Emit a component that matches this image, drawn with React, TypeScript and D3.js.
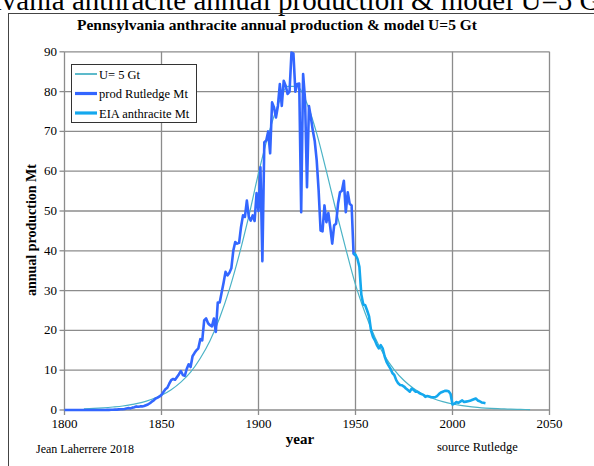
import * as d3 from 'd3';

// Rutledge production, Mt, one value per year from 1800
const rutledgeStart = 1800;
const rutledgeMt = [
  0, 0, 0, 0, 0, 0, 0, 0, 0, 0,
  0, 0, 0, 0, 0, 0, 0, 0, 0, 0,
  0.01, 0.01, 0.03, 0.03, 0.05, 0.08, 0.1, 0.1, 0.15, 0.2,
  0.2, 0.25, 0.4, 0.5, 0.4, 0.6, 0.7, 0.9, 0.8, 0.9,
  0.9, 1.0, 1.2, 1.4, 1.7, 2.1, 2.4, 2.9, 3.1, 3.4,
  3.8, 4.5, 5.2, 5.6, 6.6, 7.5, 7.8, 7.6, 8.3, 9.0,
  9.8, 8.8, 8.6, 10.3, 11.5, 10.8, 13.5, 14.3, 15.0, 15.5,
  17.8, 17.5, 22.5, 23.0, 21.8, 21.3, 21.0, 23.0, 19.6, 27.0,
  27.0, 29.5, 32.0, 34.7, 33.8, 34.5, 35.6, 40.0, 42.2, 41.8,
  42.0, 46.0, 48.9, 48.5, 52.6, 48.5, 47.6, 48.9, 47.5, 54.5,
  50.0, 61.0, 37.4, 67.3, 67.7, 70.0, 64.5, 77.3, 76.0, 73.5,
  76.4, 81.9, 76.4, 82.7, 81.5, 79.4, 80.0, 89.8, 89.6, 80.0,
  81.9, 82.0, 49.7, 84.4, 78.0, 56.0, 76.4, 73.5, 70.2, 67.5,
  62.7, 55.1, 45.1, 44.9, 51.4, 47.2, 49.5, 45.9, 41.8, 46.4,
  46.8, 51.8, 54.7, 55.1, 57.6, 49.7, 54.7, 51.8, 51.4, 39.3,
  38.8,
];

// EIA anthracite, Mt, one value per year from 1949
const eiaStart = 1949;
const eiaMt = [
  39.5, 39.0, 38.0, 36.0, 29.0, 26.5, 26.3, 25.0, 23.5, 20.0,
  18.4, 17.5, 16.3, 15.5, 16.3, 15.5, 13.5, 12.1, 11.2, 10.4,
  9.3, 8.8, 7.5, 6.7, 6.3, 6.2, 5.9, 5.4, 5.0, 4.6,
  5.4, 5.0, 4.6, 4.6, 4.2, 4.0, 3.8, 3.3, 3.5, 3.4,
  3.2, 3.2, 3.2, 3.5, 4.0, 4.4, 4.6, 4.8, 4.8, 4.7,
  4.0, 1.4, 1.6, 2.0, 1.8, 2.1, 2.4, 2.0, 2.1, 2.2,
  2.3, 2.5, 2.7, 2.9, 2.4, 2.2, 1.9, 1.8, 1.7,
];

// model U = 5 Gt, read every 5 years
const modelYears = [
  1810, 1815, 1820, 1825, 1830, 1835, 1840, 1845, 1850, 1855,
  1860, 1865, 1870, 1875, 1880, 1885, 1890, 1895, 1900, 1905,
  1910, 1915, 1920, 1925, 1930, 1935, 1940, 1945, 1950, 1955,
  1960, 1965, 1970, 1975, 1980, 1985, 1990, 1995, 2000, 2005,
  2010, 2015, 2020, 2025, 2030, 2035, 2040,
];
const modelMt = [
  0.3, 0.4, 0.55, 0.75, 1.0, 1.4, 1.9, 2.7, 3.7, 5.1,
  7.0, 9.5, 13.0, 17.4, 23.2, 30.3, 38.9, 48.7, 59.5, 69.0,
  76.6, 81.3, 81.3, 77.0, 69.5, 60.0, 50.0, 40.5, 31.5, 24.3,
  18.3, 13.6, 10.1, 7.4, 5.4, 3.9, 2.9, 2.1, 1.5, 1.1,
  0.8, 0.55, 0.4, 0.3, 0.2, 0.15, 0.1,
];

const xTicks = [1800, 1850, 1900, 1950, 2000, 2050];
const yTicks = [0, 10, 20, 30, 40, 50, 60, 70, 80, 90];

const legendLabels = ['U= 5 Gt', 'prod Rutledge Mt', 'EIA anthracite Mt'];
const legendColors = ['#4bb3c6', '#3366ff', '#14a8ee'];
const legendWidths = [1.2, 2.6, 2.6];

type Pt = [number, number];

export default function App() {
  const x = d3.scaleLinear().domain([1800, 2050]).range([64.5, 549.5]);
  const y = d3.scaleLinear().domain([0, 90]).range([410, 51.8]);
  const serif = '"Liberation Serif", "Times New Roman", serif';

  const line = d3
    .line<Pt>()
    .x((d) => x(d[0]))
    .y((d) => y(d[1]));
  const smooth = d3
    .line<Pt>()
    .x((d) => x(d[0]))
    .y((d) => y(d[1]))
    .curve(d3.curveMonotoneX);

  const rutledge: Pt[] = rutledgeMt.map((v, i) => [rutledgeStart + i, v]);
  const eia: Pt[] = eiaMt.map((v, i) => [eiaStart + i, v]);
  const model: Pt[] = modelYears.map((yr, i) => [yr, modelMt[i]]);

  const [x0, x1] = x.range();
  const [y0, y1] = y.range();

  return (
    <svg
      width={594}
      height={466}
      style={{ position: 'absolute', left: 0, top: 0, background: '#fff' }}
      fontFamily={serif}
    >
      {/* slide title, cut off at the top */}
      <text x={-90} y={10} fontSize={29} fill="#000">
        Pennsylvania anthracite annual production &amp; model U=5 Gt
      </text>
      {/* chart frame */}
      <rect x={8.5} y={13.5} width={700} height={600} fill="none" stroke="#444" strokeWidth={1} />

      <text x={277} y={29.5} fontSize={15.5} fontWeight="bold" textAnchor="middle">
        Pennsylvania anthracite annual production &amp; model U=5 Gt
      </text>

      {/* grid */}
      {yTicks.map((t) => (
        <g key={'y' + t}>
          <line x1={x0} x2={x1} y1={y(t)} y2={y(t)} stroke="#8c8c8c" strokeWidth={1.3} />
          <line x1={x0 - 5} x2={x0} y1={y(t)} y2={y(t)} stroke="#8c8c8c" strokeWidth={1.3} />
          <text x={57} y={y(t) + 4} fontSize={13} textAnchor="end">
            {t}
          </text>
        </g>
      ))}
      {xTicks.map((t) => (
        <g key={'x' + t}>
          <line x1={x(t)} x2={x(t)} y1={y1} y2={y0 + 5} stroke="#8c8c8c" strokeWidth={1.3} />
          <text x={x(t)} y={427.5} fontSize={13} textAnchor="middle">
            {t}
          </text>
        </g>
      ))}

      {/* series */}
      <path d={smooth(model) ?? ''} fill="none" stroke={legendColors[0]} strokeWidth={legendWidths[0]} />
      <path
        d={line(rutledge) ?? ''}
        fill="none"
        stroke={legendColors[1]}
        strokeWidth={legendWidths[1]}
        strokeLinejoin="round"
      />
      <path
        d={line(eia) ?? ''}
        fill="none"
        stroke={legendColors[2]}
        strokeWidth={legendWidths[2]}
        strokeLinejoin="round"
      />

      {/* legend */}
      <rect x={71.5} y={64.5} width={125} height={58} fill="#fff" stroke="#333" strokeWidth={1} />
      {legendLabels.map((l, i) => (
        <g key={l} transform={`translate(0, ${74 + i * 19.5})`}>
          <line x1={75} x2={97} y1={0} y2={0} stroke={legendColors[i]} strokeWidth={legendWidths[i] + 0.6} />
          <text x={99} y={4.5} fontSize={12.5}>
            {l}
          </text>
        </g>
      ))}

      {/* axis titles and notes */}
      <text x={300} y={444} fontSize={15} fontWeight="bold" textAnchor="middle">
        year
      </text>
      <text
        transform="translate(36, 230) rotate(-90)"
        fontSize={14}
        fontWeight="bold"
        textAnchor="middle"
      >
        annual production Mt
      </text>
      <text x={36} y={453} fontSize={12}>
        Jean Laherrere 2018
      </text>
      <text x={437} y={451} fontSize={12.5}>
        source Rutledge
      </text>
    </svg>
  );
}
